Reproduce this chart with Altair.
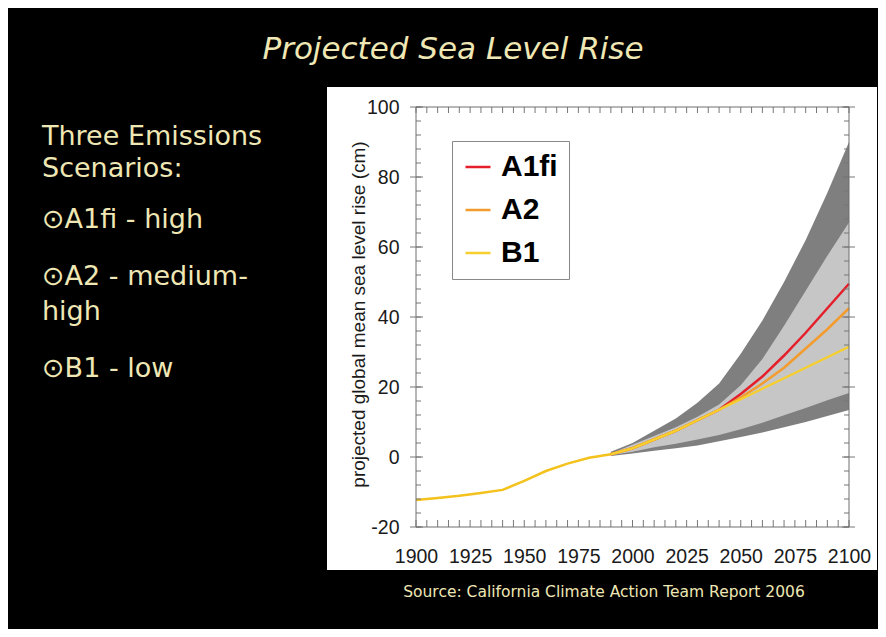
import altair as alt
import pandas as pd

# ---------------- data ----------------
hist_years = [1900, 1905, 1910, 1920, 1930, 1940, 1950, 1960, 1970, 1980, 1990]
hist_rise = [-12.3, -12.0, -11.7, -11.1, -10.3, -9.4, -6.8, -4.0, -1.9, -0.2, 0.8]

proj_years = [1990, 2000, 2010, 2020, 2030, 2040, 2050, 2060, 2070, 2080, 2090, 2100]
outer_hi = [1.5, 4.0, 7.5, 11.0, 15.5, 21.0, 29.5, 39.0, 50.0, 62.0, 75.5, 90.0]
inner_hi = [1.0, 3.5, 6.0, 8.5, 11.5, 15.0, 20.5, 28.0, 37.5, 47.5, 57.5, 67.0]
inner_lo = [0.5, 1.5, 2.8, 3.8, 5.0, 6.3, 7.9, 9.8, 11.9, 14.0, 16.2, 18.3]
outer_lo = [0.3, 1.0, 1.8, 2.5, 3.3, 4.5, 5.7, 7.0, 8.5, 10.0, 11.7, 13.4]

scenarios = ["A1fi", "A2", "B1"]
a1fi = [0.8, 2.5, 5.0, 7.5, 10.5, 13.5, 18.0, 23.0, 29.0, 35.5, 42.5, 49.5]
a2 = [0.8, 2.5, 5.0, 7.5, 10.5, 13.5, 17.0, 21.0, 25.5, 31.0, 36.5, 42.5]
b1 = [0.8, 2.5, 5.0, 7.5, 10.5, 13.5, 16.5, 19.5, 22.5, 25.5, 28.5, 31.5]
scenario_colors = ["#e41f2b", "#f39c2d", "#f6cf2e"]

x_labels = [1900, 1925, 1950, 1975, 2000, 2025, 2050, 2075, 2100]
y_labels = [-20, 0, 20, 40, 60, 80, 100]
x_minor = list(range(1900, 2101, 5))
y_minor = list(range(-20, 101, 4))

title_text = "Projected Sea Level Rise"
side_lines = ["Three Emissions", "Scenarios:", "\u2299A1fi - high",
              "\u2299A2 - medium-", "high", "\u2299B1 - low"]
source_text = "Source: California Climate Action Team Report 2006"
y_title = "projected global mean sea level rise (cm)"

# ---------------- layout ----------------
W, H = 433, 420
side_baselines = [38, 70, 121, 178, 213, 270]
CREAM = "#efe7b4"

bands = pd.DataFrame({"year": proj_years, "outer_lo": outer_lo, "outer_hi": outer_hi,
                      "inner_lo": inner_lo, "inner_hi": inner_hi})
hist = pd.DataFrame({"year": hist_years, "rise": hist_rise})
proj = pd.DataFrame({
    "year": proj_years * 3,
    "rise": a1fi + a2 + b1,
    "scenario": [s for s in scenarios for _ in proj_years],
})
one = pd.DataFrame({"k": [0]})
xt = pd.DataFrame({"tick": x_minor})
yt = pd.DataFrame({"tick": y_minor})
ytm = pd.DataFrame({"tick": y_labels})

X_SCALE = alt.Scale(domain=[1900, 2100], nice=False, zero=False)
Y_SCALE = alt.Scale(domain=[-20, 100], nice=False, zero=False)
X_AXIS = alt.Axis(values=x_labels, format="d", grid=False, ticks=False, tickSize=0,
                  domain=False, labelFont="Liberation Sans", labelFontSize=19.5,
                  labelColor="#1a1a1a", labelPadding=20, labelFlush=False,
                  labelOverlap=False, zindex=2)
Y_AXIS = alt.Axis(values=y_labels, grid=False, ticks=False, tickSize=0,
                  labelExpr="'' + datum.value",
                  domain=False, labelFont="Liberation Sans", labelFontSize=19.5,
                  labelColor="#1a1a1a", labelPadding=17, labelFlush=False,
                  labelOverlap=False, titleX=-52, titleY=207, titleAngle=270,
                  titleBaseline="alphabetic", titleAlign="center",
                  titleFont="Liberation Sans", titleFontSize=19,
                  titleFontWeight="normal", titleColor="#1a1a1a", zindex=2)


def xq(field):
    return alt.X(field, type="quantitative", scale=X_SCALE, axis=X_AXIS, title=None)


def yq(field):
    return alt.Y(field, type="quantitative", scale=Y_SCALE, axis=Y_AXIS, title=y_title)


layers = []

# white panel behind the plot
layers.append(alt.Chart(one).mark_rect(color="white").encode(
    x=alt.value(-89), x2=alt.value(461), y=alt.value(-20), y2=alt.value(463)))

# uncertainty bands
layers.append(alt.Chart(bands).mark_area(color="#7f7f7f").encode(
    x=xq("year"), y=yq("outer_lo"), y2="outer_hi"))
layers.append(alt.Chart(bands).mark_area(color="#c6c6c6").encode(
    x=xq("year"), y=yq("inner_lo"), y2="inner_hi"))

# historical line
layers.append(alt.Chart(hist).mark_line(color="#f4c21c", strokeWidth=2.5).encode(
    x=xq("year"), y=yq("rise")))

# scenario lines
layers.append(alt.Chart(proj).mark_line(strokeWidth=2.5).encode(
    x=xq("year"), y=yq("rise"),
    color=alt.Color("scenario:N",
                    scale=alt.Scale(domain=scenarios, range=scenario_colors),
                    sort=scenarios,
                    legend=alt.Legend(orient="none", legendX=36, legendY=34, title=None,
                                      symbolType="stroke", symbolStrokeWidth=2.5,
                                      symbolSize=625, labelFont="Liberation Sans",
                                      labelFontSize=30, labelFontWeight="bold",
                                      labelColor="black", labelOffset=8,
                                      strokeColor="#888888", fillColor="white",
                                      padding=11, rowPadding=13)),
    order=alt.Order("scenario:N", sort="descending")))

# tick marks (inward)
layers.append(alt.Chart(xt).mark_rule(color="#777777").encode(
    x=xq("tick"), y=alt.value(H), y2=alt.value(H - 7)))
layers.append(alt.Chart(xt).mark_rule(color="#777777").encode(
    x=xq("tick"), y=alt.value(0), y2=alt.value(6)))
layers.append(alt.Chart(yt).mark_rule(color="#777777").encode(
    y=yq("tick"), x=alt.value(0), x2=alt.value(5)))
layers.append(alt.Chart(yt).mark_rule(color="#777777").encode(
    y=yq("tick"), x=alt.value(W - 5), x2=alt.value(W)))
layers.append(alt.Chart(ytm).mark_rule(color="#777777").encode(
    y=yq("tick"), x=alt.value(-6), x2=alt.value(7)))
layers.append(alt.Chart(ytm).mark_rule(color="#777777").encode(
    y=yq("tick"), x=alt.value(W - 7), x2=alt.value(W + 6)))

# frame
layers.append(alt.Chart(one).mark_rect(fillOpacity=0, stroke="#6f6f6f", strokeWidth=1).encode(
    x=alt.value(0), x2=alt.value(W), y=alt.value(0), y2=alt.value(H)))

# slide texts
layers.append(alt.Chart(one).mark_text(
    text=title_text, font="DejaVu Sans", fontSize=31, fontStyle="italic",
    color=CREAM, align="center", baseline="alphabetic").encode(
    x=alt.value(37), y=alt.value(-48)))
for line, yb in zip(side_lines, side_baselines):
    layers.append(alt.Chart(one).mark_text(
        text=line, font="DejaVu Sans", fontSize=27, color=CREAM,
        align="left", baseline="alphabetic").encode(
        x=alt.value(-374), y=alt.value(yb)))
layers.append(alt.Chart(one).mark_text(
    text=source_text, font="DejaVu Sans", fontSize=15.5, color=CREAM,
    align="center", baseline="alphabetic").encode(
    x=alt.value(188), y=alt.value(490)))

chart = alt.layer(*layers).properties(
    width=W, height=H,
    autosize=alt.AutoSizeParams(type="none"),
    padding={"left": 408, "top": 99, "right": 29, "bottom": 102},
    background="black",
).configure_view(strokeWidth=0)

chart.save("out.html", embed_options={"renderer": "svg", "actions": False})
